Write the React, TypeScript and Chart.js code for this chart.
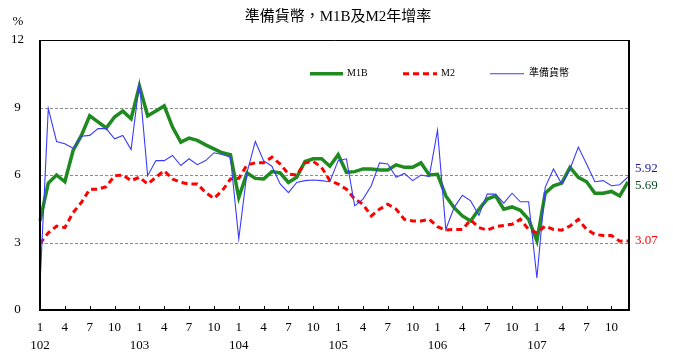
import React, { useEffect, useRef } from "react";
import { Chart, registerables } from "chart.js";

Chart.register(...registerables);

const years = ["102", "103", "104", "105", "106", "107"];
const months = [1, 2, 3, 4, 5, 6, 7, 8, 9, 10, 11, 12];

const m1b = [
  3.96, 5.64, 6.0, 5.7, 7.09, 7.76, 8.63, 8.36, 8.09, 8.58, 8.84, 8.5,
  9.95, 8.63, 8.84, 9.07, 8.13, 7.46, 7.64, 7.54, 7.34, 7.16, 6.99, 6.9,
  5.0, 6.09, 5.85, 5.82, 6.15, 6.09, 5.67, 5.9, 6.6, 6.72, 6.72, 6.39,
  6.9, 6.12, 6.15, 6.27, 6.27, 6.22, 6.22, 6.45, 6.34, 6.34, 6.54, 6.0,
  6.03, 5.07, 4.55, 4.18, 3.96, 4.48, 4.93, 5.07, 4.48, 4.58, 4.43, 4.03,
  3.08, 5.19, 5.52, 5.64, 6.34, 5.9, 5.7, 5.19, 5.19, 5.27, 5.07, 5.69,
];

const m2 = [
  2.95, 3.43, 3.73, 3.66, 4.33, 4.78, 5.37, 5.37, 5.48, 5.97, 6.0, 5.75,
  5.9, 5.6, 5.9, 6.19, 5.82, 5.67, 5.6, 5.6, 5.22, 4.96, 5.3, 5.82,
  5.85, 6.45, 6.54, 6.54, 6.79, 6.49, 6.04, 6.0, 6.54, 6.6, 6.34, 5.75,
  5.6, 5.37, 4.93, 4.7, 4.18, 4.48, 4.7, 4.48, 4.03, 3.96, 3.96, 4.03,
  3.7, 3.55, 3.58, 3.58, 4.0, 3.66, 3.55, 3.7, 3.76, 3.81, 4.03, 3.58,
  3.43, 3.73, 3.58, 3.55, 3.73, 4.03, 3.58, 3.36, 3.31, 3.31, 3.06, 3.07,
];

const reserveMoney = [
  1.12, 8.96, 7.49, 7.39, 7.19, 7.72, 7.76, 8.06, 8.06, 7.61, 7.76, 7.13,
  10.1, 5.97, 6.64, 6.64, 6.87, 6.42, 6.72, 6.46, 6.64, 6.99, 6.91, 6.79,
  3.16, 6.12, 7.49, 6.64, 6.39, 5.6, 5.22, 5.67, 5.75, 5.78, 5.75, 5.7,
  6.64, 6.72, 4.63, 4.93, 5.52, 6.54, 6.49, 5.9, 6.07, 5.75, 6.0, 5.93,
  7.99, 3.58, 4.55, 5.1, 4.85, 4.21, 5.15, 5.15, 4.75, 5.19, 4.81, 4.81,
  1.42, 5.45, 6.27, 5.6, 6.27, 7.24, 6.49, 5.7, 5.75, 5.52, 5.57, 5.92,
];

const seriesNames = ["M1B", "M2", "準備貨幣"];
const endLabels = ["5.69", "3.07", "5.92"];
const yTicks = [0, 3, 6, 9, 12];
const titleText = "準備貨幣，M1B及M2年增率";
const unitText = "%";

const labels: string[][] = [];
years.forEach((y) => months.forEach((m) => labels.push([String(m), y])));

const SERIF = "'Liberation Serif', 'Noto Sans CJK TC', serif";

const decorPlugin = {
  id: "decor",
  beforeDatasetsDraw(chart: any) {
    const { ctx, chartArea, scales } = chart;
    const y = scales.y;
    ctx.save();
    ctx.strokeStyle = "#8a8a8a";
    ctx.lineWidth = 1;
    ctx.setLineDash([3, 2]);
    [3, 6, 9].forEach((v) => {
      const py = Math.round(y.getPixelForValue(v)) + 0.5;
      ctx.beginPath();
      ctx.moveTo(chartArea.left, py);
      ctx.lineTo(chartArea.right, py);
      ctx.stroke();
    });
    ctx.restore();
  },
  afterDatasetsDraw(chart: any) {
    const { ctx, chartArea, scales } = chart;
    const x = scales.x;
    const y = scales.y;
    ctx.save();
    // frame
    ctx.setLineDash([]);
    ctx.strokeStyle = "#000";
    ctx.lineWidth = 1;
    ctx.beginPath();
    ctx.moveTo(chartArea.left, chartArea.top + 0.5);
    ctx.lineTo(chartArea.right + 1, chartArea.top + 0.5);
    ctx.stroke();
    ctx.lineWidth = 2;
    ctx.beginPath();
    ctx.moveTo(chartArea.left, chartArea.top);
    ctx.lineTo(chartArea.left, chartArea.bottom);
    ctx.lineTo(chartArea.right + 1, chartArea.bottom);
    ctx.lineTo(chartArea.right + 1, chartArea.top);
    ctx.stroke();
    // tick marks every 3 months
    ctx.lineWidth = 1;
    labels.forEach((_, i) => {
      if (i % 3 !== 0 || i === 0) return;
      const px = Math.round(x.getPixelForValue(i)) + 0.5;
      ctx.beginPath();
      ctx.moveTo(px, chartArea.bottom);
      ctx.lineTo(px, chartArea.bottom - 4);
      ctx.stroke();
    });
    // title
    ctx.fillStyle = "#000";
    ctx.font = `15px ${SERIF}`;
    ctx.textAlign = "center";
    ctx.textBaseline = "middle";
    ctx.fillText(titleText, 338, 17);
    // unit
    ctx.font = `13px ${SERIF}`;
    ctx.fillText(unitText, 18, 22);
    // legend
    const ly = y.getPixelForValue(10.5);
    const items = [
      { x0: 310, x1: 343, color: "#1f8a1f", w: 3.5, dash: [] as number[], tx: 347 },
      { x0: 403, x1: 437, color: "#ff0000", w: 3, dash: [6, 4], tx: 441 },
      { x0: 490, x1: 524, color: "#3a3aff", w: 1, dash: [] as number[], tx: 529 },
    ];
    items.forEach((it, k) => {
      ctx.strokeStyle = it.color;
      ctx.lineWidth = it.w;
      ctx.setLineDash(it.dash);
      ctx.beginPath();
      ctx.moveTo(it.x0, ly);
      ctx.lineTo(it.x1, ly);
      ctx.stroke();
      ctx.setLineDash([]);
      ctx.fillStyle = "#000";
      ctx.font = `10px ${SERIF}`;
      ctx.textAlign = "left";
      ctx.fillText(seriesNames[k], it.tx, ly);
    });
    // end labels
    const last = labels.length - 1;
    const ends = [
      { v: reserveMoney[last], t: endLabels[2], c: "#1a1ab0" },
      { v: m1b[last], t: endLabels[0], c: "#0d4a22" },
      { v: m2[last], t: endLabels[1], c: "#ff0000" },
    ];
    ctx.font = `13px ${SERIF}`;
    ctx.textAlign = "left";
    ends.forEach((e, k) => {
      let py = y.getPixelForValue(e.v);
      if (k === 0) py -= 8;
      if (k === 1) py += 4;
      ctx.fillStyle = e.c;
      ctx.fillText(e.t, 635, py);
    });
    ctx.restore();
  },
};

export default function App() {
  const ref = useRef<HTMLCanvasElement | null>(null);
  useEffect(() => {
    if (!ref.current) return;
    const chart = new Chart(ref.current, {
      type: "line",
      data: {
        labels,
        datasets: [
          {
            label: seriesNames[0],
            data: m1b,
            borderColor: "#1f8a1f",
            borderWidth: 3.5,
            pointRadius: 0,
            tension: 0,
            order: 2,
          },
          {
            label: seriesNames[1],
            data: m2,
            borderColor: "#ff0000",
            borderWidth: 3,
            borderDash: [6, 4],
            pointRadius: 0,
            tension: 0,
            order: 1,
          },
          {
            label: seriesNames[2],
            data: reserveMoney,
            borderColor: "#3a3aff",
            borderWidth: 1.1,
            pointRadius: 0,
            tension: 0,
            order: 0,
          },
        ],
      },
      options: {
        animation: false,
        responsive: false,
        maintainAspectRatio: false,
        events: [],
        layout: { padding: { top: 40, right: 45, left: 0, bottom: 0 } },
        plugins: {
          legend: { display: false },
          tooltip: { enabled: false },
          title: { display: false },
        },
        scales: {
          x: {
            type: "category",
            offset: false,
            grid: { display: false, drawTicks: false },
            border: { display: false },
            ticks: {
              autoSkip: false,
              maxRotation: 0,
              minRotation: 0,
              padding: 9,
              color: "#000",
              font: { family: SERIF, size: 13, lineHeight: 1.35 },
              callback: (_v: any, i: number) => {
                if (i % 12 === 0) return labels[i];
                if (i % 3 === 0) return labels[i][0];
                return "";
              },
            },
            afterFit: (s: any) => {
              s.height = 45;
            },
          },
          y: {
            min: 0,
            max: 12,
            afterBuildTicks: (s: any) => {
              s.ticks = yTicks.map((v) => ({ value: v }));
            },
            grid: { display: false, drawTicks: false },
            border: { display: false },
            ticks: {
              crossAlign: "center",
              padding: 16,
              color: "#000",
              font: { family: SERIF, size: 13 },
            },
            afterFit: (s: any) => {
              s.width = 40;
            },
          },
        },
      },
      plugins: [decorPlugin],
    });
    return () => chart.destroy();
  }, []);
  return (
    <div style={{ position: "fixed", left: 0, top: 0, width: 673, height: 355, background: "#fff" }}>
      <canvas ref={ref} width={673} height={355} style={{ width: 673, height: 355, display: "block" }} />
    </div>
  );
}
